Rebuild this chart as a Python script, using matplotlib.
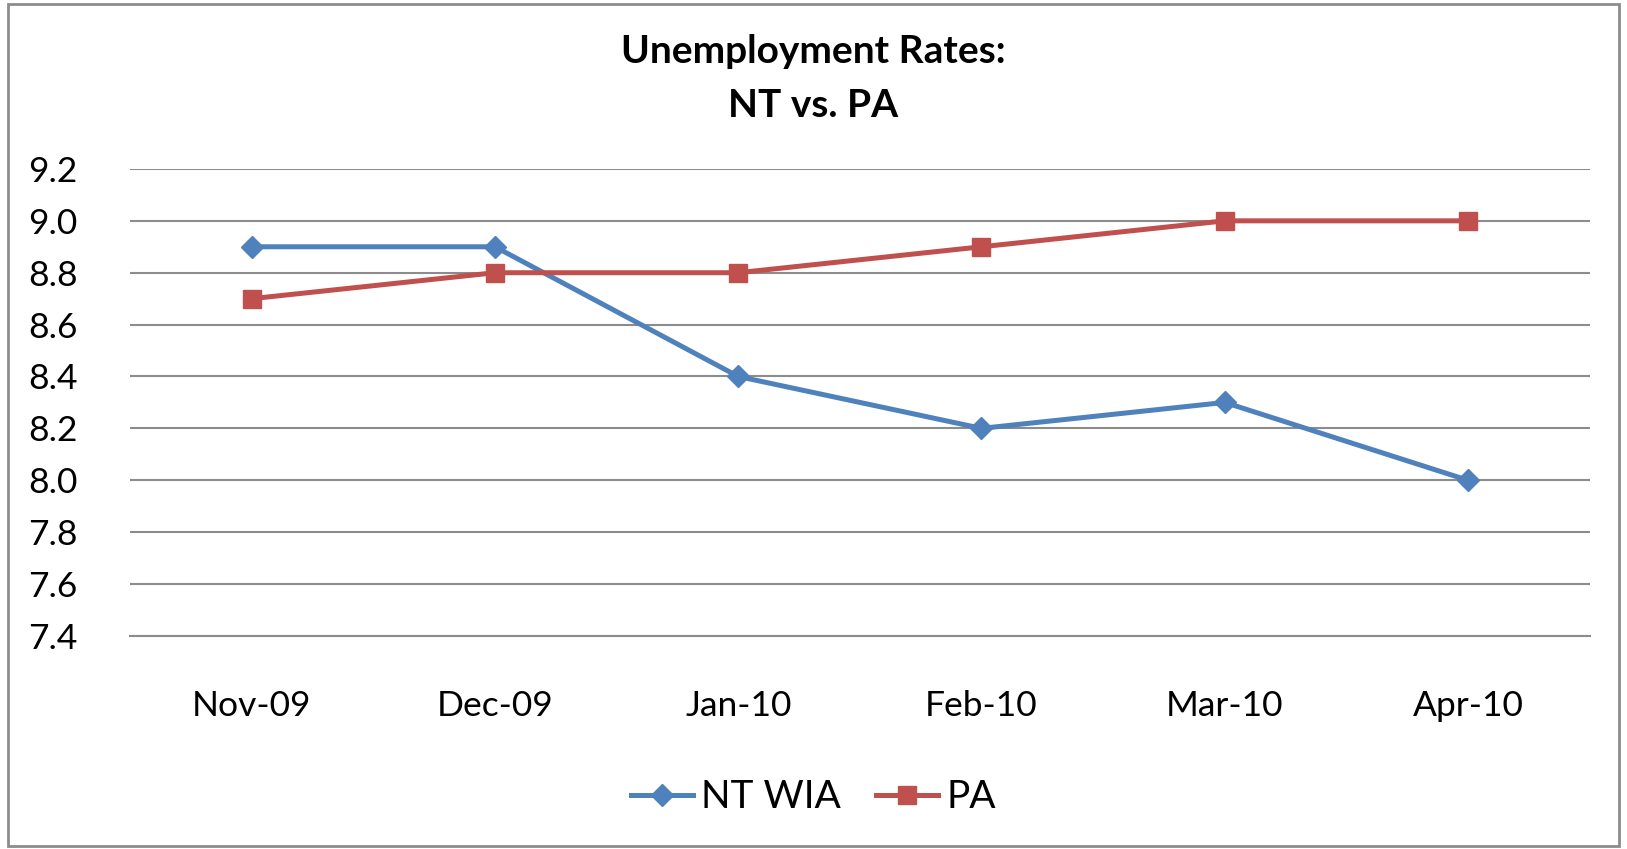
import matplotlib.pyplot as plt
from matplotlib.patches import Rectangle

months = ['Nov-09', 'Dec-09', 'Jan-10', 'Feb-10', 'Mar-10', 'Apr-10']
nt_wia = [8.9, 8.9, 8.4, 8.2, 8.3, 8.0]
pa = [8.7, 8.8, 8.8, 8.9, 9.0, 9.0]
yticks = [7.4, 7.6, 7.8, 8.0, 8.2, 8.4, 8.6, 8.8, 9.0, 9.2]

plt.rcParams['font.family'] = ['Lato', 'DejaVu Sans']

fig = plt.figure(figsize=(16.27, 8.49), dpi=100)
ax = fig.add_axes([0.080, 0.251, 0.897, 0.550])

x = list(range(len(months)))
ax.plot(x, nt_wia, color='#4F81BD', lw=3.6, marker='D', ms=11, label='NT WIA')
ax.plot(x, pa, color='#C0504D', lw=3.6, marker='s', ms=13, label='PA')

ax.set_xlim(-0.5, len(months) - 0.5)
ax.set_ylim(7.4, 9.2)
ax.set_yticks(yticks)
ax.set_yticklabels(['%.1f' % v for v in yticks], fontsize=25.5)
ax.set_xticks(x)
ax.set_xticklabels(months, fontsize=25.5)
ax.tick_params(length=0)
ax.tick_params(axis='x', pad=39)
ax.tick_params(axis='y', pad=38)
ax.grid(axis='y', color='#8c8c8c', lw=1.5)
ax.set_axisbelow(True)
for s in ['top', 'right', 'left']:
    ax.spines[s].set_visible(False)
ax.spines['bottom'].set_color('#8c8c8c')
ax.spines['bottom'].set_linewidth(1.5)

fig.text(0.5, 0.96, 'Unemployment Rates:\nNT vs. PA', ha='center', va='top',
         fontsize=28, fontweight='bold', linespacing=1.65)

fig.legend(loc='center', bbox_to_anchor=(0.5, 0.061), ncol=2, frameon=False,
           fontsize=28, handlelength=1.6, handletextpad=0.2, columnspacing=0.9)

fig.patches.append(Rectangle((0.005, 0.003), 0.99, 0.992, transform=fig.transFigure,
                             fill=False, edgecolor='#8c8c8c', lw=2))

fig.savefig('out.png', dpi=100)
